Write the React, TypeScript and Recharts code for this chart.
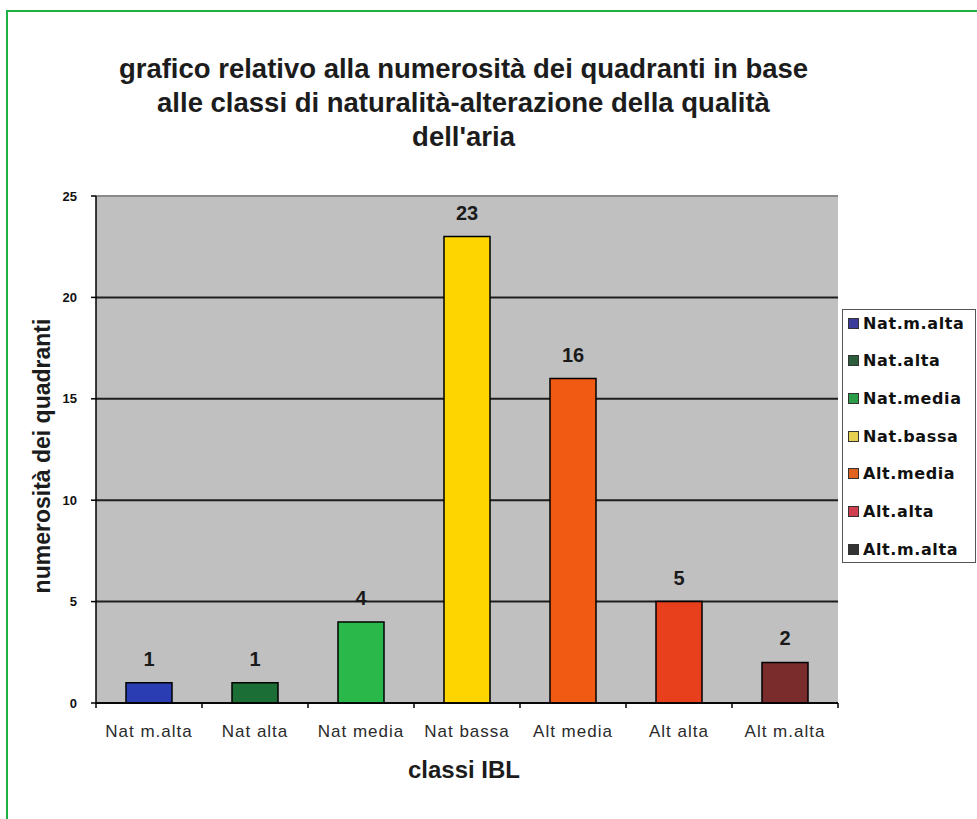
import React from 'react'
import { BarChart, Bar, XAxis, YAxis, CartesianGrid, Cell, LabelList, Legend } from 'recharts'

const titleLines = [
  'grafico relativo alla numerosità dei quadranti in base',
  'alle classi di naturalità-alterazione della qualità',
  "dell'aria",
]
const categories = ['Nat m.alta', 'Nat alta', 'Nat media', 'Nat bassa', 'Alt media', 'Alt alta', 'Alt m.alta']
const legendNames = ['Nat.m.alta', 'Nat.alta', 'Nat.media', 'Nat.bassa', 'Alt.media', 'Alt.alta', 'Alt.m.alta']
const counts = [1, 1, 4, 23, 16, 5, 2]
const barColors = ['#2b3db3', '#1b6e36', '#2bb84a', '#ffd500', '#f05a12', '#e8401c', '#7a2b2b']
const legendColors = ['#3b3b9c', '#2b5c3c', '#2a9c48', '#e6cf4e', '#e0621e', '#cf3f50', '#333333']
const yTicks = [0, 5, 10, 15, 20, 25]

const data = categories.map((name, i) => ({ name, value: counts[i] }))

// plot box (px)
const plotLeft = 96
const plotRight = 838
const plotTop = 196
const plotBottom = 703
const W = 977
const H = 819
const band = (plotRight - plotLeft) / categories.length
const xTickSize = 5
const xTickMargin = 17

const FONT = '"Liberation Sans", Arial, sans-serif'
const WIDE = '"DejaVu Sans", Verdana, sans-serif'

function XTick(props: any) {
  const { x, y, payload, index } = props
  const axisY = y - xTickMargin - xTickSize
  return (
    <g>
      <line x1={x - band / 2} x2={x - band / 2} y1={axisY} y2={axisY + xTickSize} stroke="#000" strokeWidth={1.5} />
      {index === categories.length - 1 && (
        <line x1={x + band / 2} x2={x + band / 2} y1={axisY} y2={axisY + xTickSize} stroke="#000" strokeWidth={1.5} />
      )}
      <text x={x} y={y} dy="0.71em" textAnchor="middle" fill="#2a2a2a" fontSize={17} fontFamily={FONT} letterSpacing={1}>
        {payload.value}
      </text>
    </g>
  )
}

function gridLine(props: any) {
  const { x1, x2, y1, y2, index } = props
  const top = index === yTicks.length - 1
  return (
    <line
      key={`g${index}`}
      x1={x1}
      x2={x2}
      y1={y1}
      y2={y2}
      stroke={top ? '#8a8a8a' : '#1e1e1e'}
      strokeWidth={2}
    />
  )
}

function renderLegend() {
  return (
    <div
      style={{
        position: 'relative',
        width: 134,
        height: 254,
        border: '1.5px solid #555',
        background: '#fff',
        boxSizing: 'border-box',
      }}
    >
      {legendNames.map((n, i) => (
        <div
          key={n}
          style={{
            position: 'absolute',
            left: 5,
            top: 4 + i * 37.7,
            height: 18,
            display: 'flex',
            alignItems: 'center',
            whiteSpace: 'nowrap',
          }}
        >
          <span
            style={{
              display: 'inline-block',
              width: 9,
              height: 9,
              background: legendColors[i],
              border: '1px solid #333',
              marginRight: 4,
            }}
          />
          <span style={{ fontFamily: WIDE, fontWeight: 'bold', fontSize: 16, color: '#111', letterSpacing: 0.6 }}>{n}</span>
        </div>
      ))}
    </div>
  )
}

export default function App() {
  return (
    <div style={{ position: 'absolute', left: 0, top: 0, width: W, height: H, overflow: 'hidden', background: '#fff' }}>
      <div
        style={{
          position: 'absolute',
          left: 6,
          top: 10,
          width: W + 20,
          height: H + 20,
          border: '2px solid #1fb043',
        }}
      />
      <div
        style={{
          position: 'absolute',
          left: 0,
          top: 52,
          width: 927,
          textAlign: 'center',
          fontFamily: FONT,
          fontWeight: 'bold',
          fontSize: 27.5,
          lineHeight: '34px',
          color: '#1c1c1c',
        }}
      >
        {titleLines.map((l) => (
          <div key={l}>{l}</div>
        ))}
      </div>
      <div
        style={{
          position: 'absolute',
          left: 42,
          top: (plotTop + plotBottom) / 2 + 6,
          transform: 'translate(-50%, -50%) rotate(-90deg)',
          whiteSpace: 'nowrap',
          fontFamily: FONT,
          fontWeight: 'bold',
          fontSize: 23,
          color: '#1c1c1c',
        }}
      >
        numerosità dei quadranti
      </div>
      <div
        style={{
          position: 'absolute',
          left: 464,
          top: 770,
          transform: 'translate(-50%, -50%)',
          whiteSpace: 'nowrap',
          fontFamily: FONT,
          fontWeight: 'bold',
          fontSize: 24,
          color: '#1c1c1c',
        }}
      >
        classi IBL
      </div>
      <div style={{ position: 'absolute', left: 0, top: 0 }}>
        <BarChart
          width={W}
          height={H}
          data={data}
          margin={{ top: plotTop, left: plotLeft - 60, right: W - plotRight, bottom: H - plotBottom - 40 }}
        >
          <CartesianGrid vertical={false} horizontal={gridLine} fill="#c0c0c0" />
          <XAxis
            dataKey="name"
            height={40}
            interval={0}
            tickLine={false}
            tickSize={xTickSize}
            tickMargin={xTickMargin}
            tick={<XTick />}
            axisLine={{ stroke: '#000', strokeWidth: 1.5 }}
          />
          <YAxis
            width={60}
            domain={[0, 25]}
            ticks={yTicks}
            interval={0}
            tickSize={5}
            tickMargin={14}
            tickLine={{ stroke: '#000', strokeWidth: 1.5 }}
            axisLine={{ stroke: '#000', strokeWidth: 1.5 }}
            tick={{ fill: '#111', fontSize: 13, fontWeight: 'bold', fontFamily: FONT }}
          />
          <Legend
            layout="vertical"
            align="center"
            verticalAlign="middle"
            wrapperStyle={{ left: 842, top: 309, width: 134, height: 254 }}
            content={renderLegend}
          />
          <Bar dataKey="value" barSize={46} stroke="#000" strokeWidth={1.5} isAnimationActive={false}>
            {data.map((d, i) => (
              <Cell key={d.name} fill={barColors[i]} />
            ))}
            <LabelList
              dataKey="value"
              position="top"
              offset={17}
              fill="#1a1a1a"
              fontSize={20}
              fontWeight="bold"
              fontFamily={FONT}
            />
          </Bar>
        </BarChart>
      </div>
    </div>
  )
}
